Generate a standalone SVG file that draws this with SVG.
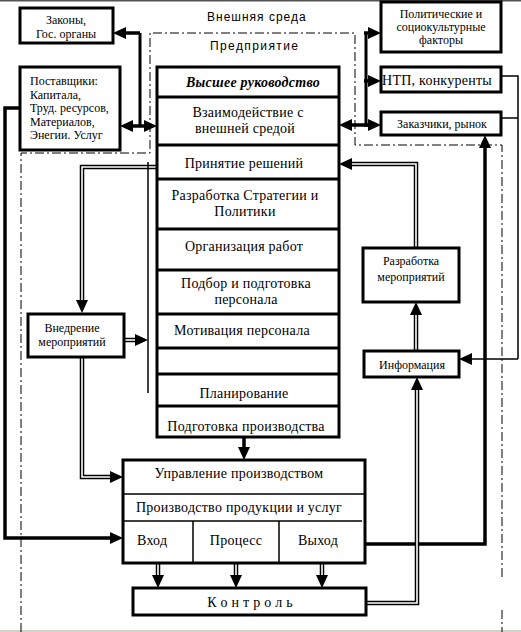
<svg xmlns="http://www.w3.org/2000/svg" width="521" height="632" viewBox="0 0 521 632">
<style>
.box{fill:#fff;stroke:#000;stroke-width:3}
.sep{stroke:#000;stroke-width:3;fill:none}
.thin{stroke:#000;stroke-width:1.5;fill:none}
.t{font-family:"Liberation Serif","Times New Roman",serif;font-size:14px;text-anchor:middle;fill:#000;letter-spacing:0.25px}
.s{font-size:12px;letter-spacing:0}
.st{text-anchor:start}
.h{font-family:"Liberation Sans",Arial,sans-serif;font-size:12px;fill:#000}
.thick{fill:none;stroke:#000;stroke-width:3.5;marker-end:url(#ah)}
.thinA{fill:none;stroke:#000;stroke-width:1.3;marker-end:url(#ah)}
.dblo{fill:none;stroke:#000;stroke-width:4.5;marker-end:url(#ah)}
.dbli{fill:none;stroke:#fff;stroke-width:1.6}
.dd{fill:none;stroke:#000;stroke-width:1;stroke-dasharray:9,3,2,3}
</style>
<defs>
<marker id="ah" markerUnits="userSpaceOnUse" markerWidth="13" markerHeight="12" viewBox="0 0 13 12" refX="0" refY="6" orient="auto">
<path d="M0,0 L13,6 L0,12 z" fill="#000"/>
</marker>
</defs>
<rect x="0" y="0" width="521" height="632" fill="#fff"/>
<rect x="0" y="0" width="521" height="1.5" fill="#555"/>
<rect x="0" y="630" width="521" height="2" fill="#d4d0c8"/>

<g id="boundary">
<path class="dd" d="M21,632 V153 H150 V33 H355 V145 H502 V578"/>
<path class="dd" d="M502,610 V632"/>
<text class="h" x="207" y="21" letter-spacing="1">Внешняя среда</text>
<text class="h" x="210" y="50" letter-spacing="1.4">Предприятие</text>
</g>

<g id="connectors">
<path class="sep" d="M140,33 V126"/>
<path class="thick" d="M140,33 H126"/>
<path class="thick" d="M140,126 H133"/>
<path class="thick" d="M140,126 H144"/>
<path class="sep" d="M366,33 V125"/>
<path class="thick" d="M364,33 H368"/>
<path class="thick" d="M364,81 H368"/>
<path class="thick" d="M364,125 H368"/>
<path class="thick" d="M368,125 H352"/>
<path class="thin" d="M501,76 H518 V359"/>
<path class="thin" d="M501,118 H518"/>
<path class="thinA" d="M518,359 H472"/>
<path class="thick" d="M365,544 H485 V148"/>
<path class="dblo" d="M366,603 H417 V390"/>
<path class="dbli" d="M366,603 H417 V390"/>
<path class="dblo" d="M416,351 V315"/>
<path class="dbli" d="M416,351 V315"/>
<path class="dblo" d="M416,248 V164 H352"/>
<path class="dbli" d="M416,248 V164 H352"/>
<path class="dblo" d="M157,167 H82 V300"/>
<path class="dbli" d="M157,167 H82 V300"/>
<path class="thin" d="M148,162 V393"/>
<path class="dblo" d="M124,340 H135"/>
<path class="dbli" d="M124,340 H135"/>
<path class="dblo" d="M82,357 V477 H110"/>
<path class="dbli" d="M82,357 V477 H110"/>
<path class="thick" d="M20,108 H5 V538 H110"/>
<path class="thick" d="M244,348 V361"/>
<path class="thick" d="M244,437 V447"/>
<path class="dblo" d="M158,563 V575"/>
<path class="dbli" d="M158,563 V575"/>
<path class="dblo" d="M236,563 V575"/>
<path class="dbli" d="M236,563 V575"/>
<path class="dblo" d="M322,563 V575"/>
<path class="dbli" d="M322,563 V575"/>
</g>

<g id="zakony">
<rect class="box" x="20" y="8" width="93" height="35"/>
<text class="t s" x="66" y="24">Законы,</text>
<text class="t s" x="66" y="38">Гос. органы</text>
</g>

<g id="postavshiki">
<rect class="box" x="20" y="67" width="100" height="83"/>
<text class="t s st" x="30" y="85">Поставщики:</text>
<text class="t s st" x="30" y="99">Капитала,</text>
<text class="t s st" x="30" y="112">Труд. ресурсов,</text>
<text class="t s st" x="30" y="126">Материалов,</text>
<text class="t s st" x="30" y="139">Энегии. Услуг</text>
</g>

<g id="politicheskie">
<rect class="box" x="381" y="2" width="120" height="50"/>
<text class="t s" x="441" y="18">Политические и</text>
<text class="t s" x="441" y="31">социокультурные</text>
<text class="t s" x="441" y="44">факторы</text>
</g>

<g id="ntp">
<rect class="box" x="381" y="67" width="120" height="25"/>
<text class="t" x="437" y="85">НТП, конкуренты</text>
</g>

<g id="zakazchiki">
<rect class="box" x="381" y="112" width="120" height="23"/>
<text class="t s" x="442" y="128">Заказчики, рынок</text>
</g>

<g id="management">
<rect class="box" x="157" y="67" width="182" height="370"/>
<path class="sep" d="M157,97 H339 M157,145 H339 M157,179 H339 M157,229 H339 M157,270 H339 M157,314 H339 M157,348 H339 M157,374 H339 M157,406 H339"/>
<text class="t" x="253" y="87" font-weight="bold" font-style="italic">Высшее руководство</text>
<text class="t" x="248" y="117">Взаимодействие с</text>
<text class="t" x="245" y="133">внешней средой</text>
<text class="t" x="244" y="168">Принятие решений</text>
<text class="t" x="245" y="200">Разработка Стратегии  и</text>
<text class="t" x="245" y="216">Политики</text>
<text class="t" x="244" y="251">Организация работ</text>
<text class="t" x="246" y="288">Подбор и подготовка</text>
<text class="t" x="246" y="304">персонала</text>
<text class="t" x="242" y="335">Мотивация персонала</text>
<text class="t" x="244" y="398">Планирование</text>
<text class="t" x="246" y="431">Подготовка производства</text>
</g>

<g id="razrabotka">
<rect class="box" x="363" y="248" width="96" height="54"/>
<text class="t s" x="411" y="265">Разработка</text>
<text class="t s" x="411" y="281">мероприятий</text>
</g>

<g id="informacia">
<rect class="box" x="364" y="351" width="95" height="26"/>
<text class="t s" x="412" y="369">Информация</text>
</g>

<g id="vnedrenie">
<rect class="box" x="28" y="314" width="96" height="43"/>
<text class="t s" x="72" y="332">Внедрение</text>
<text class="t s" x="72" y="346">мероприятий</text>
</g>

<g id="production">
<rect class="box" x="123" y="460" width="242" height="103"/>
<path class="thin" d="M123,494 H365 M123,521 H362 M193,521 V563 M279,521 V563"/>
<text class="t" x="239" y="478">Управление производством</text>
<text class="t" x="239" y="512">Производство продукции и услуг</text>
<text class="t st" x="137" y="545">Вход</text>
<text class="t" x="236" y="545">Процесс</text>
<text class="t" x="318" y="545">Выход</text>
</g>

<g id="kontrol">
<rect class="box" x="133" y="588" width="233" height="27"/>
<text class="t" x="250" y="607">К о н т р о л ь</text>
</g>
</svg>
